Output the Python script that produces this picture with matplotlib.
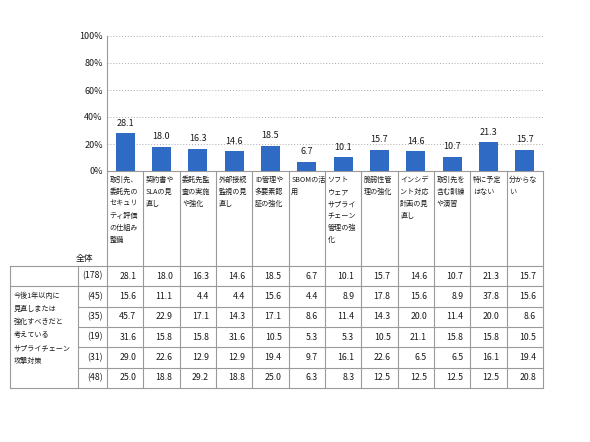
import matplotlib
matplotlib.use("Agg")
import matplotlib.pyplot as plt
from matplotlib.ticker import FuncFormatter

plt.rcParams['font.family'] = ['Noto Sans CJK JP', 'DejaVu Sans']

# categories (already wrapped as in the source)
categories = [
    "取引先、\n委託先の\nセキュリ\nティ評価\nの仕組み\n整備",
    "契約書や\nSLAの見\n直し",
    "委託先監\n査の実施\nや強化",
    "外部接続\n監視の見\n直し",
    "ID管理や\n多要素認\n証の強化",
    "SBOMの活\n用",
    "ソフト\nウェア\nサプライ\nチェーン\n管理の強\n化",
    "脆弱性管\n理の強化",
    "インシデ\nント対応\n計画の見\n直し",
    "取引先を\n含む訓練\nや演習",
    "特に予定\nはない",
    "分からな\nい",
]
overall = [28.1, 18.0, 16.3, 14.6, 18.5, 6.7, 10.1, 15.7, 14.6, 10.7, 21.3, 15.7]

sample_sizes = [178, 45, 35, 19, 31, 48]
row_45 = [15.6, 11.1, 4.4, 4.4, 15.6, 4.4, 8.9, 17.8, 15.6, 8.9, 37.8, 15.6]
row_35 = [45.7, 22.9, 17.1, 14.3, 17.1, 8.6, 11.4, 14.3, 20.0, 11.4, 20.0, 8.6]
row_19 = [31.6, 15.8, 15.8, 31.6, 10.5, 5.3, 5.3, 10.5, 21.1, 15.8, 15.8, 10.5]
row_31 = [29.0, 22.6, 12.9, 12.9, 19.4, 9.7, 16.1, 22.6, 6.5, 6.5, 16.1, 19.4]
row_48 = [25.0, 18.8, 29.2, 18.8, 25.0, 6.3, 8.3, 12.5, 12.5, 12.5, 12.5, 20.8]
table_rows = [overall, row_45, row_35, row_19, row_31, row_48]

row_group_label = "今後1年以内に\n見直しまたは\n強化すべきだと\n考えている\nサプライチェーン\n攻撃対策"

W, H = 590, 442
fig = plt.figure(figsize=(W / 100, H / 100), dpi=100)

# layout in pixels
ax_left, ax_right, ax_top, ax_bottom = 107, 543, 36, 171
tbl_left, lbl_right = 10, 78
hdr_bottom = 266
row_h = 20.3
line_c = '#9a9a9a'
txt_c = '#1a1a1a'

# overlay in pixel coordinates for table
ov = fig.add_axes([0, 0, 1, 1])
ov.set_xlim(0, W)
ov.set_ylim(H, 0)
ov.axis('off')

ax = fig.add_axes([ax_left / W, 1 - ax_bottom / H, (ax_right - ax_left) / W, (ax_bottom - ax_top) / H])
x = range(len(categories))
bars = ax.bar(x, overall, width=0.52, color='#2f6bc4', zorder=3)
for b, v in zip(bars, overall):
    ax.annotate(f"{v:.1f}", (b.get_x() + b.get_width() / 2, v), xytext=(0, 4),
                textcoords='offset points', ha='center', va='bottom', fontsize=6.5, color=txt_c)
ax.set_xlim(-0.5, len(categories) - 0.5)
ax.set_ylim(0, 100)
ax.set_yticks([0, 20, 40, 60, 80, 100])
ax.yaxis.set_major_formatter(FuncFormatter(lambda v, p: f"{int(v)}%"))
ax.tick_params(axis='y', length=0, labelsize=6.5, pad=3, colors=txt_c)
ax.set_xticks([])
ax.grid(axis='y', linestyle=(0, (1, 2)), color='#aaaaaa', linewidth=0.7, zorder=0)
for s in ['top', 'right']:
    ax.spines[s].set_visible(False)
for s in ['left', 'bottom']:
    ax.spines[s].set_color(line_c)
    ax.spines[s].set_linewidth(0.8)
ax.patch.set_alpha(0)

ncol = len(categories)
col_w = (ax_right - ax_left) / ncol
col_edges = [ax_left + i * col_w for i in range(ncol + 1)]

# category label cells
for i, lab in enumerate(categories):
    ov.text(col_edges[i] + 2.5, ax_bottom + 5, lab, ha='left', va='top', fontsize=5.1,
            linespacing=1.68, color=txt_c)
for xe in col_edges:
    ov.plot([xe, xe], [ax_bottom, hdr_bottom], color=line_c, lw=0.8)

ov.text(84, 258, "全体", ha='center', va='center', fontsize=6.3, color=txt_c)

# table
nrows = len(table_rows)
row_tops = [hdr_bottom + i * row_h for i in range(nrows + 1)]
tbl_bottom = row_tops[-1]
ov.plot([tbl_left, ax_right], [hdr_bottom, hdr_bottom], color=line_c, lw=0.8)
ov.plot([tbl_left, ax_right], [row_tops[1], row_tops[1]], color=line_c, lw=0.8)
ov.plot([tbl_left, ax_right], [tbl_bottom, tbl_bottom], color=line_c, lw=0.8)
for yy in row_tops[2:-1]:
    ov.plot([lbl_right, ax_right], [yy, yy], color=line_c, lw=0.8)
for xe in [tbl_left, lbl_right]:
    ov.plot([xe, xe], [hdr_bottom, tbl_bottom], color=line_c, lw=0.8)
for xe in col_edges:
    ov.plot([xe, xe], [hdr_bottom, tbl_bottom], color=line_c, lw=0.8)

ov.text(tbl_left + 4, row_tops[1] + 5.5, row_group_label, ha='left', va='top', fontsize=5.1,
        linespacing=1.85, color=txt_c)

for r, (n, vals) in enumerate(zip(sample_sizes, table_rows)):
    yc = (row_tops[r] + row_tops[r + 1]) / 2
    ov.text(ax_left - 4, yc, f"({n})", ha='right', va='center', fontsize=6.3, color=txt_c)
    for i, v in enumerate(vals):
        ov.text(col_edges[i + 1] - 7, yc, f"{v:.1f}", ha='right', va='center', fontsize=6.3,
                color=txt_c)

fig.savefig('out.png', dpi=100, facecolor='white')
